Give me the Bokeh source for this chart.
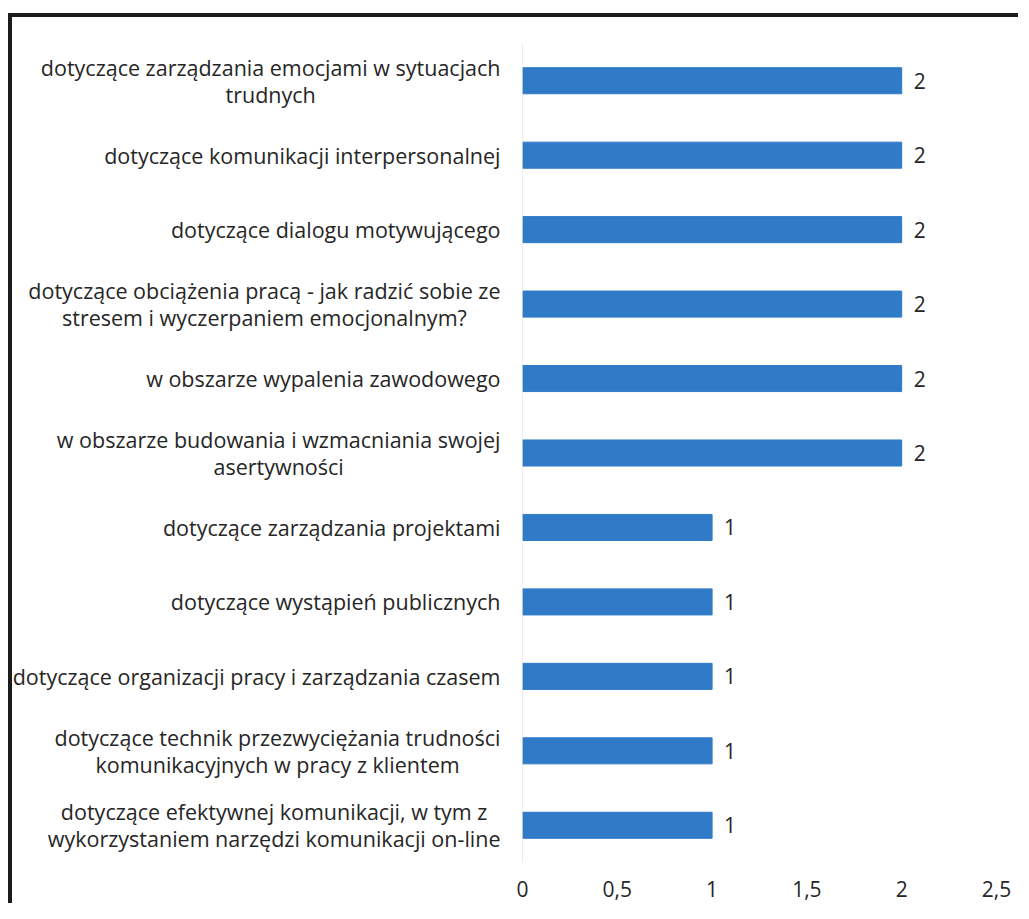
from bokeh.plotting import figure
from bokeh.models import ColumnDataSource, FactorRange, FixedTicker, CustomJSTickFormatter, Span
from bokeh.embed import file_html
from bokeh.resources import INLINE
from bokeh.core.properties import value

categories = [
    "dotyczące zarządzania emocjami w sytuacjach\ntrudnych",
    "dotyczące komunikacji interpersonalnej",
    "dotyczące dialogu motywującego",
    "dotyczące obciążenia pracą - jak radzić sobie ze\nstresem i wyczerpaniem emocjonalnym?",
    "w obszarze wypalenia zawodowego",
    "w obszarze budowania i wzmacniania swojej\nasertywności",
    "dotyczące zarządzania projektami",
    "dotyczące wystąpień publicznych",
    "dotyczące organizacji pracy i zarządzania czasem",
    "dotyczące technik przezwyciężania trudności\nkomunikacyjnych w pracy z klientem",
    "dotyczące efektywnej komunikacji, w tym z\nwykorzystaniem narzędzi komunikacji on-line",
]
values = [2, 2, 2, 2, 2, 2, 1, 1, 1, 1, 1]
x_ticks = [0, 0.5, 1, 1.5, 2, 2.5]

FONT = "Open Sans"
TXT = "#262626"
FS_CAT = "21.5px"
FS_NUM = "21px"

src = ColumnDataSource(dict(cat=categories, val=values, lab=[str(v) for v in values],
                            zero=[0] * len(values)))

p = figure(
    width=1010, height=890,
    y_range=FactorRange(factors=list(reversed(categories)), range_padding=0),
    x_range=(0, 2.5),
    output_backend="svg", toolbar_location=None,
    min_border_left=510, min_border_right=26, min_border_top=26, min_border_bottom=45,
)
p.margin = (13, 0, 0, 8)
p.styles = {"border-top": "4px solid #1c1c1c", "border-left": "4px solid #1c1c1c"}
p.outline_line_color = None
p.grid.visible = False

p.hbar(y="cat", right="val", left=0, height=0.35, source=src, color="#2f7bc8")
p.text(x="val", y="cat", text="lab", source=src, x_offset=12,
       text_align="left", text_baseline="middle", text_font=value(FONT),
       text_font_size=FS_NUM, text_color=TXT)

# category labels: block anchored right of the axis, lines centred within the block
cat_labels = p.text(x="zero", y="cat", text="cat", source=src, x_offset=-22,
                    anchor="center_right", text_align="center", text_baseline="middle",
                    text_font=value(FONT), text_font_size=FS_CAT, text_color=TXT,
                    text_line_height=0.92)
cat_labels.level = "overlay"

# vertical category axis line
p.add_layout(Span(location=0, dimension="height", line_color="#d9d9d9", line_width=1))
p.yaxis.visible = False

p.xaxis.ticker = FixedTicker(ticks=x_ticks)
p.xaxis.formatter = CustomJSTickFormatter(code="return String(tick).replace('.', ',');")
p.xaxis.axis_line_color = None
p.xaxis.major_tick_line_color = None
p.xaxis.minor_tick_line_color = None
p.xaxis.major_label_text_font = FONT
p.xaxis.major_label_text_font_size = FS_NUM
p.xaxis.major_label_text_color = TXT
p.xaxis.major_label_standoff = 12

open("out.html", "w").write(file_html(p, INLINE))
